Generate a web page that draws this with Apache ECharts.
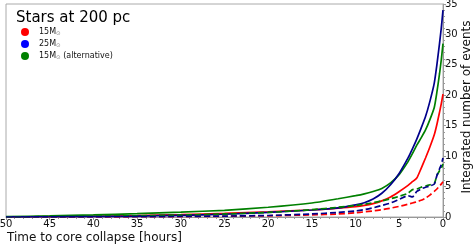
<!DOCTYPE html>
<html><head><meta charset="utf-8">
<script src="https://cdn.jsdelivr.net/npm/echarts@6/dist/echarts.min.js"></script>
<style>html,body{margin:0;padding:0;background:#fff}#c{width:473px;height:245px}</style>
</head><body><div id="c"></div>
<script>
var hours = [50,45,40,35,30,25,20,15,12,10,9,8,7,6,5,4,3.5,3,2.5,2,1.5,1,0.7,0.4,0.2,0];
var red15 = [0.02,0.06,0.12,0.22,0.38,0.6,0.85,1.15,1.45,1.7,1.9,2.2,2.65,3.3,4.2,5.2,5.8,6.4,8.0,9.7,11.5,13.5,15.2,17.2,18.6,20.2];
var green15alt = [0.05,0.18,0.35,0.55,0.8,1.1,1.6,2.3,3.0,3.5,3.8,4.2,4.7,5.6,7.0,9.1,10.4,11.8,13.0,14.3,16.0,18.0,20.5,23.5,25.8,28.5];
var blue25 = [0.01,0.04,0.08,0.15,0.28,0.45,0.75,1.15,1.5,2.0,2.35,2.95,3.9,5.3,7.2,9.7,11.2,12.8,14.6,16.5,19.0,22.0,25.0,28.5,31.0,34.0];
var red15d = [0.0,0.01,0.02,0.04,0.07,0.12,0.2,0.35,0.5,0.7,0.85,1.0,1.2,1.45,1.75,2.1,2.3,2.5,2.75,3.1,3.6,4.2,4.6,5.1,5.4,5.8];
var green15altd = [0.02,0.06,0.12,0.2,0.32,0.5,0.75,1.2,1.6,1.9,2.1,2.35,2.65,3.0,3.4,3.9,4.5,4.6,4.9,5.1,5.3,5.5,6.8,7.6,8.0,8.7];
var blue25d = [0.0,0.01,0.03,0.05,0.09,0.15,0.25,0.5,0.75,1.0,1.2,1.5,1.9,2.3,2.9,3.5,3.3,4.2,4.6,4.9,5.1,5.4,6.8,7.9,8.6,9.7];
var legendNames = ['15M{s|⊙}', '25M{s|⊙}', '15M{s|⊙} (alternative)'];
var xTitle = 'Time to core collapse [hours]';
var yTitle = 'Integrated number of events';

function pairs(v){ return hours.map(function(h,i){ return [h, v[i]]; }); }
function line(name, vals, color, dashed, z){
  return {name:name, type:'line', data:pairs(vals), showSymbol:false, symbol:'none', smooth:0.2, z:z,
    lineStyle:{color:color, width:1.7, type: dashed ? [6,3] : 'solid'}, itemStyle:{color:color}};
}
var chart = echarts.init(document.getElementById('c'), null, {renderer:'canvas'});
chart.setOption({
  animation:false,
  title:{text:'Stars at 200 pc', left:11, top:6, textStyle:{fontFamily:'DejaVu Sans', fontSize:15, fontWeight:'normal', color:'#000'}},
  legend:{orient:'vertical', left:16, top:23, icon:'circle', itemWidth:18, itemHeight:8, itemGap:3,
    data:[{name:'a', itemStyle:{color:'#ff0000'}},{name:'b', itemStyle:{color:'#0000ff'}},{name:'c', itemStyle:{color:'#008000'}}],
    formatter:function(n){ return {a:legendNames[0], b:legendNames[1], c:legendNames[2]}[n]; },
    textStyle:{fontFamily:'DejaVu Sans', fontSize:8, color:'#111', rich:{s:{fontSize:5.5, verticalAlign:'bottom', padding:[4,0,0,0], color:'#888'}}}},
  graphic:[
    {type:'text', left:7, top:232, style:{text:xTitle, font:'12px "DejaVu Sans"', fill:'#111'}},
    {type:'text', x:466.5, y:107, rotation:Math.PI/2, style:{text:yTitle, font:'12px "DejaVu Sans"', fill:'#111', align:'center', verticalAlign:'middle'}}
  ],
  grid:{left:6, right:30, top:4, bottom:28, show:true, borderColor:'#aaa', borderWidth:1, outerBoundsMode:'none', containLabel:false},
  xAxis:{type:'value', inverse:true, min:0, max:50, interval:5,
    axisLine:{lineStyle:{color:'#999'}}, axisTick:{length:3, lineStyle:{color:'#999'}},
    minorTick:{show:true, splitNumber:5, length:2, lineStyle:{color:'#999'}},
    splitLine:{show:false},
    axisLabel:{fontFamily:'DejaVu Sans', fontSize:10, color:'#111', margin:2}},
  yAxis:{type:'value', position:'right', min:0, max:35, interval:5,
    axisLine:{show:true, lineStyle:{color:'#999'}}, axisTick:{show:true, length:3, lineStyle:{color:'#999'}},
    minorTick:{show:true, splitNumber:5, length:2, lineStyle:{color:'#999'}},
    splitLine:{show:false},
    axisLabel:{fontFamily:'DejaVu Sans', fontSize:10, color:'#111', margin:2}},
  series:[
    line('a', red15, '#ff0000', false, 2),
    line('c', green15alt, '#008000', false, 3),
    line('b', blue25, '#00008b', false, 4),
    line('rd', red15d, '#ff0000', true, 5),
    line('gd', green15altd, '#008000', true, 6),
    line('bd', blue25d, '#00008b', true, 7)
  ]
});
</script></body></html>
